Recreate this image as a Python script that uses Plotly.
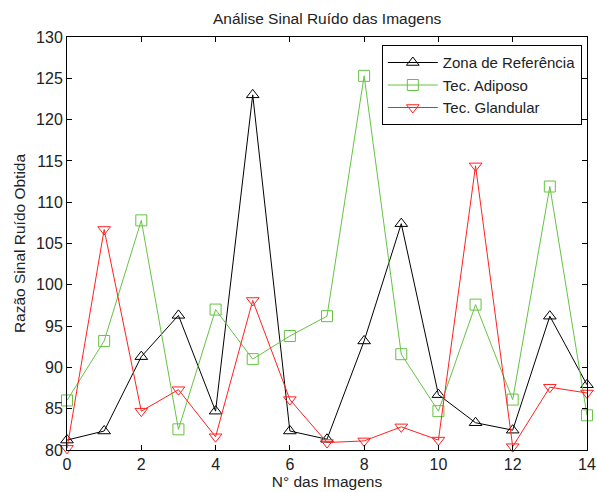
import plotly.graph_objects as go

# Image index (x axis)
imagens = list(range(15))

# Signal-to-noise ratio per region
zona_referencia = [81.2, 82.3, 91.3, 96.3, 84.7, 123.0, 82.3, 81.3, 93.2, 107.4, 86.7, 83.3, 82.4, 96.2, 87.9]
tec_adiposo = [86.0, 93.2, 107.8, 82.5, 97.0, 91.0, 93.8, 96.2, 125.3, 91.6, 84.7, 97.6, 86.1, 111.9, 84.2]
tec_glandular = [80.2, 106.7, 84.7, 87.3, 81.6, 98.1, 86.1, 80.9, 81.1, 82.8, 81.2, 114.4, 80.4, 87.6, 86.9]

x_ticks = list(range(0, 15, 2))
y_ticks = list(range(80, 131, 5))

series = [
    ("Zona de Referência", zona_referencia, "#000000", "triangle-up-open"),
    ("Tec. Adiposo", tec_adiposo, "#66c244", "square-open"),
    ("Tec. Glandular", tec_glandular, "#ff2020", "triangle-down-open"),
]

fig = go.Figure()
for name, values, color, symbol in series:
    fig.add_trace(go.Scatter(
        x=imagens, y=values, name=name, mode="lines+markers",
        line=dict(color=color, width=1),
        marker=dict(symbol=symbol, size=11, color=color, line=dict(color=color, width=1)),
        cliponaxis=False,
    ))

axis_common = dict(
    showline=True, linecolor="black", linewidth=1, mirror="allticks",
    ticks="inside", ticklen=5, tickcolor="black", showgrid=False, zeroline=False,
    ticklabeloverflow="allow", automargin=False,
    tickfont=dict(family="Liberation Sans, Arial, sans-serif", size=16, color="#222222"),
)

fig.update_layout(
    width=597, height=492,
    margin=dict(l=67, r=10, t=37, b=42),
    paper_bgcolor="white", plot_bgcolor="white",
    font=dict(family="Liberation Sans, Arial, sans-serif", size=15, color="#222222"),
    title=dict(text="Análise Sinal Ruído das Imagens", x=0.548, xanchor="center",
               y=0.963, yanchor="middle", font=dict(size=15.5)),
    xaxis=dict(range=[-0.0005, 14.0005], tickvals=x_ticks, **axis_common,
               title=dict(text="N° das Imagens", standoff=2, font=dict(size=15.5))),
    yaxis=dict(range=[79.998, 130.002], tickvals=y_ticks, **axis_common,
               title=dict(text="Razão Sinal Ruído Obtida", standoff=6, font=dict(size=15.5))),
    legend=dict(x=0.99, y=0.98, xanchor="right", yanchor="top",
                bordercolor="black", borderwidth=1, bgcolor="white",
                font=dict(size=15), itemwidth=50, tracegroupgap=0),
    showlegend=True,
    hovermode=False,
)

fig.write_html("out.html")
